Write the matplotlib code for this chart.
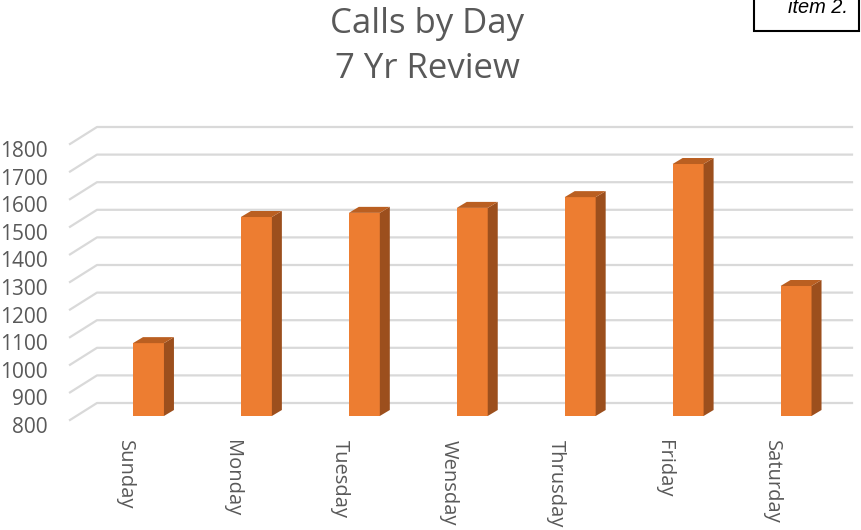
import matplotlib
matplotlib.use("Agg")
import matplotlib.pyplot as plt
from matplotlib.patches import Polygon, Rectangle
from matplotlib.lines import Line2D
from matplotlib.transforms import IdentityTransform

# ---------------- data ----------------
days = ["Sunday", "Monday", "Tuesday", "Wensday", "Thrusday", "Friday", "Saturday"]
calls = [1064, 1521, 1536, 1554, 1593, 1713, 1271]
yticks = [800, 900, 1000, 1100, 1200, 1300, 1400, 1500, 1600, 1700, 1800]
title_lines = ["Calls by Day", "7 Yr Review"]
note_text = "item 2."

# ---------------- style ----------------
W, H, DPI = 861, 530, 100
FRONT = "#ED7D31"
SIDE = "#9C4F1D"
TOP = "#BA5F21"
GRID = "#D9D9D9"
TXT = "#595959"
FONT = "Open Sans"

fig = plt.figure(figsize=(W / DPI, H / DPI), dpi=DPI)
fig.patch.set_facecolor("white")

# axes in pixel terms (image y downward)
ax_left, ax_right = 94.5, 850.0
ax_top, ax_bottom = 140.0, 416.0
ax = fig.add_axes([ax_left / W, (H - ax_bottom) / H,
                   (ax_right - ax_left) / W, (ax_bottom - ax_top) / H])
ax.set_xlim(-0.5, len(days) - 0.5)
ax.set_ylim(yticks[0], yticks[-1])
ax.axis("off")

ident = IdentityTransform()


def disp(x, y):
    return ax.transData.transform((x, y))


# depth offsets in pixels (matplotlib display: y up)
back_dy = 13.0       # back wall above bar plane
front_dy = -4.0      # start of diagonal relative to bar plane
x_front = 70.0
x_back = 97.0
x_end = 852.0

# gridlines on back wall
for v in yticks:
    yb = disp(0, v)[1]
    ax.add_line(Line2D([x_front, x_back, x_end],
                       [yb + front_dy, yb + back_dy, yb + back_dy],
                       transform=ident, color=GRID, lw=1.6, zorder=1,
                       clip_on=False))
    # tick labels at the front
    fig.text(48 / W, (yb - 9) / H, f"{v}", ha="right", va="center_baseline",
             fontsize=15, color=TXT, family=FONT)

# 3D bars
bw = 0.287
ddx, ddy = 10.0, 6.0
for i, v in enumerate(calls):
    xl, yb0 = disp(i - bw / 2, yticks[0])
    xr, yt = disp(i + bw / 2, v)
    # front face
    ax.add_patch(Rectangle((xl, yb0), xr - xl, yt - yb0, transform=ident,
                           facecolor=FRONT, edgecolor="none", zorder=3,
                           clip_on=False))
    # side face
    ax.add_patch(Polygon([(xr, yb0), (xr + ddx, yb0 + ddy),
                          (xr + ddx, yt + ddy), (xr, yt)], closed=True,
                         transform=ident, facecolor=SIDE, edgecolor="none",
                         zorder=3, clip_on=False))
    # top face
    ax.add_patch(Polygon([(xl, yt), (xr, yt), (xr + ddx, yt + ddy),
                          (xl + ddx, yt + ddy)], closed=True,
                         transform=ident, facecolor=TOP, edgecolor="none",
                         zorder=3, clip_on=False))
    # category label
    xc = disp(i, v)[0] - 24
    fig.text(xc / W, (H - 440) / H, days[i], rotation=270, ha="center",
             va="top", fontsize=14.5, color=TXT, family=FONT)

# title
fig.text(427 / W, (H - 33) / H, title_lines[0], ha="center", va="baseline",
         fontsize=25, color=TXT, family=FONT)
fig.text(427 / W, (H - 78) / H, title_lines[1], ha="center", va="baseline",
         fontsize=25, color=TXT, family=FONT)

# note box in the top-right corner (its text is cut by the top edge, as in the source)
fig.patches.append(Rectangle((754 / W, (H - 31) / H), (859 - 754) / W, 40 / H,
                             transform=fig.transFigure, facecolor="white",
                             edgecolor="black", lw=1.5, zorder=5))
fig.text(818 / W, (H - 13) / H, note_text, ha="center", va="baseline",
         fontsize=14.4, style="italic", color="black",
         family="Liberation Sans", zorder=6)

fig.savefig("out.png", dpi=DPI, facecolor="white")
